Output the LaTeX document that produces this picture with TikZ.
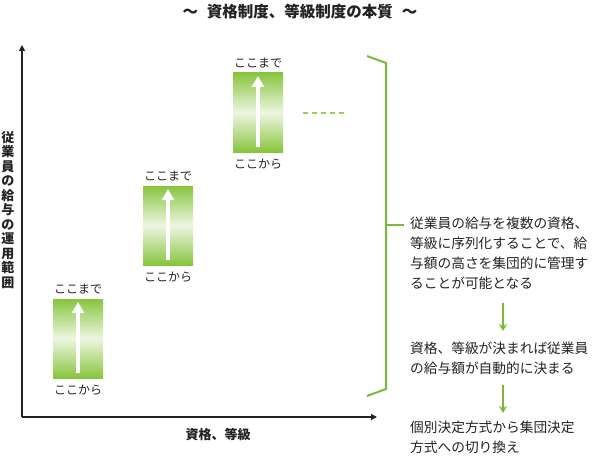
\documentclass[tikz,border=0pt]{standalone}
\usepackage{fontspec}
\setmainfont{Noto Sans CJK JP}
\usepackage{tikz}
\usetikzlibrary{arrows.meta}
\usetikzlibrary{calc,positioning}

\definecolor{leaf}{HTML}{88C53E}
\definecolor{leaflight}{HTML}{EDF6E1}
\definecolor{brace}{HTML}{7BBA38}
\definecolor{ink}{HTML}{222222}

\begin{document}
\begin{tikzpicture}[x=1pt, y=-1pt, >=Stealth,
    every node/.style={text=ink, inner sep=0pt},
    rangebox/.style={top color=leaf, bottom color=leaf, middle color=leaflight},
    uparrow/.style={draw=white, line width=4pt, -{Triangle[width=12pt,length=11pt]}},
    edgelabel/.style={font=\fontsize{12}{12}\selectfont},
    note/.style={anchor=north west, align=left, font=\fontsize{13.7}{20}\selectfont},
    flow/.style={draw=brace, line width=1.5pt, -{Stealth[width=8pt,length=7pt]}}
]
    \useasboundingbox (0,0) rectangle (600,460);

    % title
    \node[font=\bfseries\fontsize{15.5}{15.5}\selectfont] (title) at (300,12) {～\hspace{9pt}資格制度、等級制度の本質\hspace{9pt}～};

    % axes
    \coordinate (origin) at (22,417);
    \coordinate (yend) at (22,45);
    \coordinate (xend) at (377,417);
    \draw[ink, line width=1.2pt, -{Triangle[width=6pt,length=6pt]}] (origin) -- (yend);
    \draw[ink, line width=1.2pt, -{Triangle[width=6pt,length=6pt]}] (origin) -- (xend);
    \node[font=\bfseries\fontsize{13}{14.5}\selectfont, align=center] (ylabel) at (8,210)
        {従\\業\\員\\の\\給\\与\\の\\運\\用\\範\\囲};
    \node[font=\bfseries\fontsize{13}{13}\selectfont] (xlabel) at (218,435) {資格、等級};

    % ranges
    \shade[rangebox] (53,299) rectangle (103,378);
    \draw[uparrow] (78,373) -- (78,302);
    \node[edgelabel] (top1) at (78,289) {ここまで};
    \node[edgelabel] (bot1) at (78,390) {ここから};

    \shade[rangebox] (143,186) rectangle (193,265);
    \draw[uparrow] (168,260) -- (168,189);
    \node[edgelabel] (top2) at (168,176) {ここまで};
    \node[edgelabel] (bot2) at (168,277) {ここから};

    \shade[rangebox] (233,73) rectangle (283,152);
    \draw[uparrow] (258,147) -- (258,76);
    \node[edgelabel] (top3) at (258,63) {ここまで};
    \node[edgelabel] (bot3) at (258,164) {ここから};

    \draw[leaf!85, line width=1.5pt, dash pattern=on 5pt off 4pt] (303,113) -- (346,113);

    % bracket
    \coordinate (b1) at (367,56);
    \coordinate (b2) at (386,63);
    \coordinate (b3) at (386,389);
    \coordinate (b4) at (367,396);
    \coordinate (bmid) at (386,225);
    \draw[brace, line width=2pt, line join=miter] (b1) -- (b2) -- (b3) -- (b4);
    \draw[brace, line width=2pt] (bmid) -- (404,225);

    % notes
    \node[note] (note1) at (410,217) {従業員の給与を複数の資格、\\等級に序列化することで、給\\与額の高さを集団的に管理す\\ることが可能となる};
    \node[note] (note2) at (410,342) {資格、等級が決まれば従業員\\の給与額が自動的に決まる};
    \node[note] (note3) at (410,421) {個別決定方式から集団決定\\方式への切り換え};

    \draw[flow] (503,303) -- (503,331);
    \draw[flow] (503,385) -- (503,413);

\end{tikzpicture}
\end{document}
